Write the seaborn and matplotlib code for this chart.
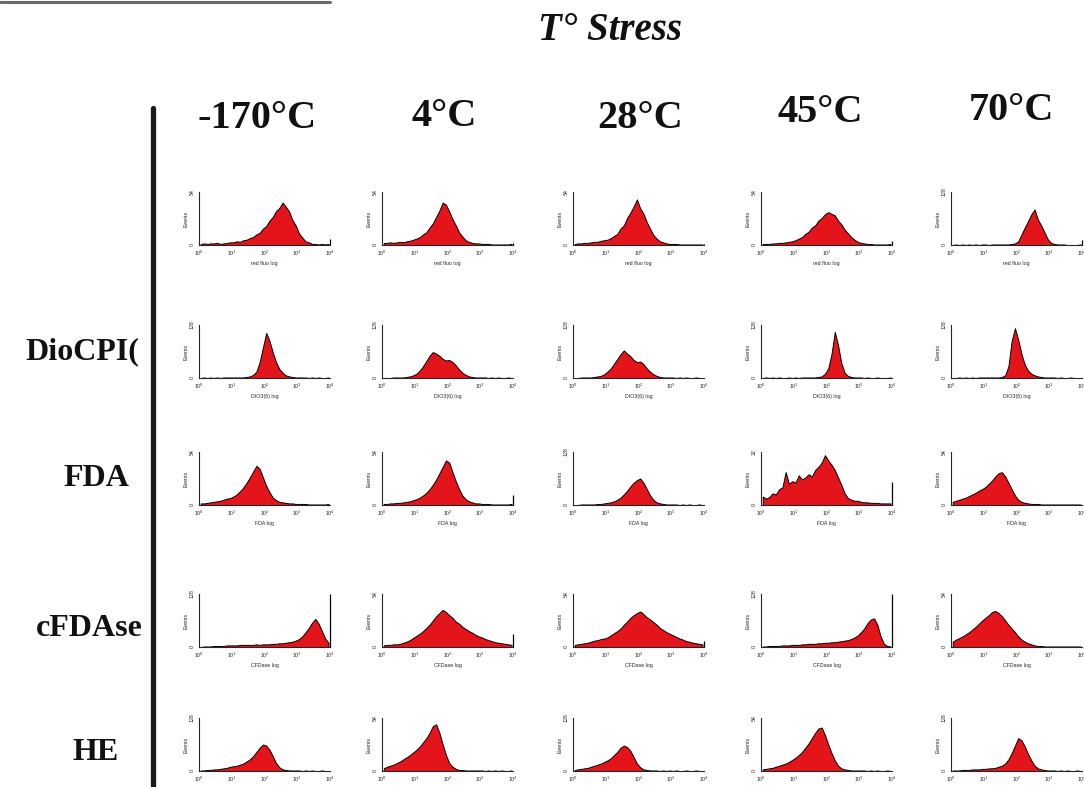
import numpy as np
import pandas as pd
import matplotlib.pyplot as plt
import seaborn as sns
from matplotlib.lines import Line2D
from matplotlib.ticker import LogFormatterMathtext, NullLocator

sns.set_style('white')
plt.rcParams['font.family'] = ['Liberation Sans', 'DejaVu Sans']

# stress temperatures (columns) and stains (rows)
temps = ['-170°C', '4°C', '28°C', '45°C', '70°C']
stains = ['', 'DioCPI(', 'FDA', 'cFDAse', 'HE']
xlabels = ['red fluo log', 'DIO3(6) log', 'FDA log', 'CFDase log', 'ROS']

# top of the "Events" axis per panel
ymax_red = [54, 54, 54, 54, 128]
ymax_dio = [128, 128, 128, 128, 128]
ymax_fda = [54, 54, 128, 32, 54]
ymax_cfda = [128, 54, 54, 128, 54]
ymax_ros = [128, 54, 128, 54, 128]

# 40 channels, 10 per decade (10^0 .. 10^4), value = % of axis top
channel_log = np.arange(0.05, 4.0, 0.1)

# red fluo log (PI)
red_m170 = [2,3,2,3,3,4,2,3,4,5, 5,7,6,9,10,13,15,20,23,31, 36,46,53,64,70,80,72,63,47,37, 22,14,7,5,2,2,1,2,1,2]
red_4 = [4,4,5,4,5,6,5,7,8,10, 12,15,20,24,33,41,53,65,80,76, 63,49,37,24,16,9,6,4,3,3, 2,2,2,1,1,1,1,1,1,2]
red_28 = [2,3,3,4,4,5,6,6,8,9, 10,13,17,21,31,37,51,61,73,86, 69,59,43,31,19,12,7,5,3,2, 2,2,1,1,1,1,1,1,1,1]
red_45 = [2,2,2,3,3,4,4,5,6,7, 9,12,15,21,25,33,37,46,51,58, 62,59,56,46,39,29,22,15,10,6, 4,3,2,2,1,1,1,1,1,2]
red_70 = [0,1,0,1,0,1,0,1,0,1, 1,0,1,1,1,1,1,1,2,3, 7,20,33,45,58,67,48,37,24,11, 4,2,1,1,1,0,0,0,0,1]

# DiOC6(3)
dio_m170 = [0,1,0,1,0,1,0,1,1,1, 1,1,1,1,2,3,6,12,30,58, 85,70,48,30,17,10,5,3,2,1, 1,1,1,0,1,0,1,0,0,1]
dio_4 = [0,0,0,1,1,1,1,2,3,5, 8,14,22,32,42,49,46,42,36,33, 34,30,24,16,10,6,3,2,1,1, 1,1,0,1,0,1,0,0,1,0]
dio_28 = [0,0,1,1,1,1,2,3,4,7, 12,18,27,36,45,52,46,41,34,30, 31,26,18,12,7,4,2,1,1,1, 1,0,1,0,1,0,0,1,0,0]
dio_45 = [0,1,0,1,0,1,0,0,1,0, 1,0,1,1,1,1,1,2,3,8, 18,45,87,62,28,10,4,2,1,1, 1,0,1,0,0,1,0,0,0,1]
dio_70 = [0,0,1,0,1,0,1,0,1,1, 1,1,1,1,1,2,5,22,70,94, 72,45,25,14,8,5,3,2,1,1, 1,1,0,1,0,0,1,0,0,0]

# FDA
fda_m170 = [3,3,4,5,6,7,8,10,12,13, 16,20,26,33,42,52,63,74,68,52, 36,24,14,9,6,5,4,3,3,2, 2,2,2,1,1,1,1,1,1,2]
fda_4 = [2,2,3,3,4,4,5,6,7,9, 11,14,18,23,30,38,48,60,72,84, 80,62,45,30,18,11,7,5,3,3, 2,2,2,1,1,1,1,1,1,2]
fda_28 = [0,0,1,1,1,1,1,2,2,3, 4,5,7,10,14,20,27,35,42,47, 50,42,30,18,10,5,3,2,1,1, 1,1,0,1,0,1,0,0,1,0]
fda_45 = [16,12,15,22,20,30,33,62,40,45, 42,56,48,52,58,54,66,72,80,94, 84,76,66,52,38,22,13,10,8,8, 6,5,5,4,4,4,3,3,3,3]
fda_70 = [6,8,10,12,14,17,20,23,27,30, 34,40,46,54,60,62,54,42,30,18, 10,6,4,3,2,2,2,1,1,1, 1,1,1,1,1,1,1,1,1,1]

# cFDAse
cfda_m170 = [0,1,1,1,2,2,2,2,3,3, 3,3,4,4,4,4,4,5,4,5, 5,5,6,6,7,7,8,9,10,12, 15,20,28,36,46,53,44,30,16,8]
cfda_4 = [3,4,4,5,5,6,8,10,13,17, 21,25,30,36,42,50,58,64,70,66, 60,55,48,44,38,34,30,27,23,20, 18,15,13,11,9,8,7,6,5,4]
cfda_28 = [4,5,6,7,8,10,12,13,15,16, 18,22,26,30,35,42,48,55,60,64, 67,62,56,52,47,42,36,32,28,25, 22,19,16,14,11,10,8,7,6,5]
cfda_45 = [1,1,2,2,2,2,3,3,3,4, 4,4,5,5,6,6,6,7,7,8, 8,9,9,10,11,12,13,15,18,22, 28,35,45,52,54,42,20,6,2,1]
cfda_70 = [10,14,17,20,24,28,33,38,44,50, 55,60,66,68,64,58,50,42,35,28, 20,14,10,7,5,3,2,2,1,1, 1,1,1,1,1,1,1,1,1,1]

# HE (ROS)
ros_m170 = [1,1,2,2,3,3,4,5,6,8, 9,10,12,14,18,22,28,36,44,50, 48,40,28,15,7,3,2,1,1,1, 1,0,1,0,1,0,0,1,0,0]
ros_4 = [5,8,10,12,15,18,22,26,30,35, 40,46,54,62,72,85,88,72,50,30, 15,8,4,2,2,1,1,1,1,1, 1,0,1,0,1,0,1,0,0,1]
ros_28 = [2,3,4,5,6,8,10,12,14,17, 20,24,30,36,44,48,45,38,26,14, 7,3,2,1,1,1,0,1,0,1, 0,1,0,0,1,0,0,1,0,0]
ros_45 = [3,4,5,6,8,10,12,14,17,21, 25,30,36,44,52,62,72,80,82,68, 50,34,20,10,5,3,2,1,1,1, 1,1,0,1,0,1,0,0,1,0]
ros_70 = [1,1,1,2,2,2,3,3,3,4, 4,5,5,6,8,10,14,22,34,48, 62,58,46,32,20,10,5,3,2,1, 1,1,0,1,0,1,0,0,1,0]

# off-scale channel at 10^4 (% of axis top)
over_red = [12, 3, 2, 8, 10]
over_dio = [0, 0, 0, 0, 0]
over_fda = [0, 18, 0, 43, 0]
over_cfda = [100, 24, 12, 100, 0]
over_ros = [0, 0, 0, 0, 0]

rows = [
    ([red_m170, red_4, red_28, red_45, red_70], ymax_red, over_red),
    ([dio_m170, dio_4, dio_28, dio_45, dio_70], ymax_dio, over_dio),
    ([fda_m170, fda_4, fda_28, fda_45, fda_70], ymax_fda, over_fda),
    ([cfda_m170, cfda_4, cfda_28, cfda_45, cfda_70], ymax_cfda, over_cfda),
    ([ros_m170, ros_4, ros_28, ros_45, ros_70], ymax_ros, over_ros),
]

W, H = 1084, 787
fig = plt.figure(figsize=(W / 100, H / 100), dpi=100)
fig.patch.set_facecolor('white')

col_left = [199, 382, 573, 761, 951]
row_top = [192, 325, 452, 594, 718]
pw, ph = 131, 53
RED = '#e3151b'

for r, (hists, ymaxes, overs) in enumerate(rows):
    for c in range(5):
        ax = fig.add_axes([col_left[c] / W, 1 - (row_top[r] + ph) / H, pw / W, ph / H])
        ymax = ymaxes[c]
        df = pd.DataFrame({'fluo': 10 ** channel_log,
                           'events': np.array(hists[c]) / 100 * ymax})
        sns.histplot(data=df, x='fluo', weights='events', bins=40, binrange=(0, 4),
                     log_scale=True, element='poly', fill=True, color=RED,
                     edgecolor='black', linewidth=0.7, alpha=1, ax=ax)
        if overs[c] > 0:
            ax.vlines(1e4, 0, overs[c] / 100 * ymax, color='black', lw=0.9, clip_on=False)
        ax.set_xlim(1, 1e4)
        ax.set_ylim(0, ymax)
        ax.set_xticks([1, 10, 100, 1000, 10000])
        ax.xaxis.set_major_formatter(LogFormatterMathtext())
        ax.xaxis.set_minor_locator(NullLocator())
        ax.set_yticks([0, ymax])
        ax.set_yticklabels(['0', str(ymax)], rotation=90, va='center')
        ax.tick_params(labelsize=3.8, length=2, width=0.5, pad=1)
        ax.set_xlabel(xlabels[r], fontsize=3.8, labelpad=1.5)
        ax.set_ylabel('Events', fontsize=3.8, labelpad=1)
        sns.despine(ax=ax)
        for s in ['left', 'bottom']:
            ax.spines[s].set_linewidth(0.8)
        ax.patch.set_alpha(0)

serif = ['Liberation Serif', 'DejaVu Serif']
fig.text(610 / W, 1 - 31 / H, 'T° Stress', family=serif, weight='bold', style='italic',
         fontsize=28, ha='center', va='center', color='#111111')

head_x = [257, 444, 640, 820, 1011]
head_y = [118, 117, 118, 112, 111]
for t, x, y in zip(temps, head_x, head_y):
    fig.text(x / W, 1 - y / H, t, family=serif, weight='bold', fontsize=29,
             ha='center', va='center', color='#111111')

lab_x = [81, 82, 96, 89, 96]
lab_y = [218, 352, 478, 628, 752]
for s, x, y in zip(stains, lab_x, lab_y):
    if s:
        fig.text(x / W, 1 - y / H, s, family=serif, weight='bold', fontsize=23,
                 ha='center', va='center', color='#111111')

# vertical bar left of the grid
fig.add_artist(Line2D([153 / W, 153 / W], [1 - 108 / H, 0], lw=3.8, color='#1a1a1a'))
# scan shadow top left
fig.add_artist(Line2D([0, 330 / W], [1 - 1.5 / H, 1 - 1.5 / H], lw=2.2, color='#6a6a6a'))

fig.savefig('out.png', dpi=100)
